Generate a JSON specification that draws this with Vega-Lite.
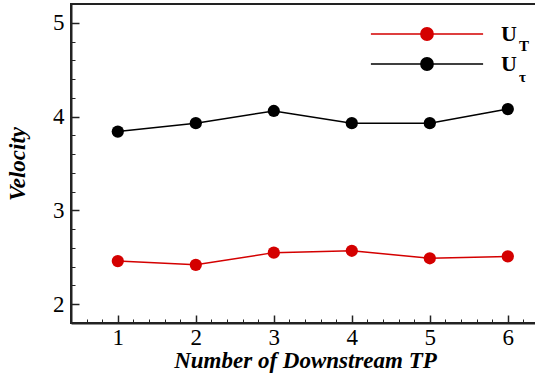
{
  "$schema": "https://vega.github.io/schema/vega-lite/v6.json",
  "width": 468,
  "height": 319,
  "autosize": {"type": "none"},
  "padding": {"left": 71, "top": 4, "right": 0, "bottom": 52},
  "background": "white",
  "config": {
    "font": "Liberation Serif",
    "view": {"stroke": "#222222", "strokeWidth": 2}
  },
  "data": {
    "values": [
      {"tp": 1, "v": 2.46, "series": "UT", "sub": "T"},
      {"tp": 2, "v": 2.42, "series": "UT", "sub": "T"},
      {"tp": 3, "v": 2.55, "series": "UT", "sub": "T"},
      {"tp": 4, "v": 2.57, "series": "UT", "sub": "T"},
      {"tp": 5, "v": 2.49, "series": "UT", "sub": "T"},
      {"tp": 6, "v": 2.51, "series": "UT", "sub": "T"},
      {"tp": 1, "v": 3.84, "series": "Uτ", "sub": "τ"},
      {"tp": 2, "v": 3.93, "series": "Uτ", "sub": "τ"},
      {"tp": 3, "v": 4.06, "series": "Uτ", "sub": "τ"},
      {"tp": 4, "v": 3.93, "series": "Uτ", "sub": "τ"},
      {"tp": 5, "v": 3.93, "series": "Uτ", "sub": "τ"},
      {"tp": 6, "v": 4.08, "series": "Uτ", "sub": "τ"}
    ]
  },
  "layer": [
    {
      "mark": {"type": "line", "strokeWidth": 1.5},
      "encoding": {
        "x": {
          "field": "tp", "type": "quantitative",
          "scale": {"domain": [0.4, 6.4], "nice": false, "zero": false},
          "axis": {
            "orient": "bottom", "values": [1, 2, 3, 4, 5, 6], "format": "d",
            "grid": false, "tickSize": -8, "tickWidth": 1.5, "tickColor": "#222222",
            "domainColor": "#222222", "domainWidth": 2,
            "labelFont": "Liberation Serif", "labelFontSize": 23, "labelColor": "#000000", "labelPadding": 11,
            "title": "Number of Downstream  TP", "titleFont": "Liberation Serif", "titleFontSize": 23,
            "titleFontStyle": "italic", "titleFontWeight": "bold", "titleColor": "#000000", "titlePadding": 0
          }
        },
        "y": {
          "field": "v", "type": "quantitative",
          "scale": {"domain": [1.8, 5.2], "nice": false, "zero": false},
          "axis": {
            "orient": "left", "values": [2, 3, 4, 5], "format": "d",
            "grid": false, "tickSize": -8, "tickWidth": 1.5, "tickColor": "#222222",
            "domainColor": "#222222", "domainWidth": 2,
            "labelFont": "Liberation Serif", "labelFontSize": 23, "labelColor": "#000000", "labelPadding": 15,
            "title": "Velocity", "titleFont": "Liberation Serif", "titleFontSize": 23,
            "titleFontStyle": "italic", "titleFontWeight": "bold", "titleColor": "#000000", "titlePadding": 23
          }
        },
        "color": {
          "field": "series", "type": "nominal",
          "scale": {"domain": ["UT", "Uτ"], "range": ["#d40000", "#000000"]},
          "legend": {
            "orient": "none", "legendX": 344, "legendY": 18, "title": null, "padding": 0,
            "symbolType": "M-5.1,0H5.1M0.56,0A0.56,0.56,0,1,1,-0.56,0A0.56,0.56,0,1,1,0.56,0Z",
            "symbolSize": 484, "symbolStrokeWidth": 1.5, "symbolOffset": 0,
            "labelExpr": "'U'", "labelFont": "Liberation Serif", "labelFontWeight": "bold",
            "labelFontSize": 22, "labelColor": "#000000", "labelOffset": 62, "rowPadding": 7,
            "encode": {
              "symbols": {
                "update": {
                  "fill": {"scale": "color", "field": "value"},
                  "stroke": {"scale": "color", "field": "value"},
                  "opacity": {"value": 1}
                }
              }
            }
          }
        }
      }
    },
    {
      "mark": {"type": "point", "filled": true, "size": 150, "opacity": 1},
      "encoding": {
        "x": {"field": "tp", "type": "quantitative", "axis": null},
        "y": {"field": "v", "type": "quantitative", "axis": null},
        "color": {"field": "series", "type": "nominal"},
        "shape": {
          "field": "sub", "type": "nominal",
          "scale": {"domain": ["T", "τ"], "range": ["circle", "circle"]},
          "legend": {
            "orient": "none", "legendX": 433, "legendY": 34, "title": null, "padding": 0,
            "symbolOpacity": 0, "symbolSize": 1, "symbolStrokeWidth": 0,
            "labelFont": "Liberation Serif", "labelFontWeight": "bold", "labelFontSize": 15,
            "labelColor": "#000000", "labelOffset": 0, "rowPadding": 15
          }
        }
      }
    },
    {
      "mark": {"type": "point", "opacity": 0},
      "encoding": {
        "x": {
          "field": "tp", "type": "quantitative",
          "axis": {
            "orient": "bottom", "grid": false, "labels": false, "domain": false, "title": null,
            "tickSize": -4, "tickWidth": 1, "tickColor": "#222222",
            "values": [0.6, 0.8, 1.2, 1.4, 1.6, 1.8, 2.2, 2.4, 2.6, 2.8, 3.2, 3.4, 3.6, 3.8, 4.2, 4.4, 4.6, 4.8, 5.2, 5.4, 5.6, 5.8, 6.2]
          }
        },
        "y": {
          "field": "v", "type": "quantitative",
          "axis": {
            "orient": "left", "grid": false, "labels": false, "domain": false, "title": null,
            "tickSize": -4, "tickWidth": 1, "tickColor": "#222222",
            "values": [2.2, 2.4, 2.6, 2.8, 3.2, 3.4, 3.6, 3.8, 4.2, 4.4, 4.6, 4.8]
          }
        }
      }
    }
  ],
  "resolve": {"axis": {"x": "independent", "y": "independent"}}
}
